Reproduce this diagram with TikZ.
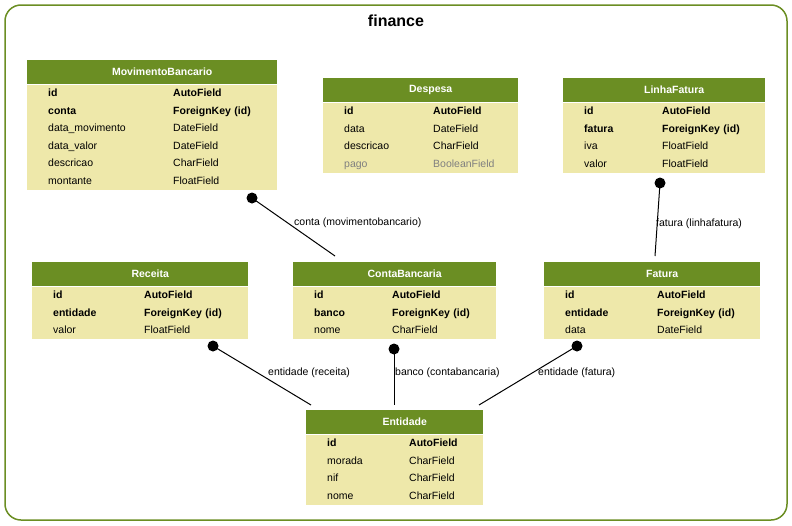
\documentclass[tikz,border=0pt]{standalone}
\usepackage{fontspec}
\setmainfont{Liberation Sans}
\usepackage{xcolor}
\definecolor{erdGreen}{HTML}{6B8E23}
\definecolor{erdBody}{HTML}{EEE8AA}
\definecolor{erdGrey}{HTML}{808080}
\usepackage{tikz}
\usetikzlibrary{positioning}

\begin{document}
\begin{tikzpicture}[
    x=1pt, y=-1pt,
    node distance=0pt,
    erdhead/.style={
        rectangle,
        fill=erdGreen,
        anchor=north west,
        inner sep=0pt,
        minimum height=24pt,
        text=white,
        font=\bfseries\fontsize{10.5}{12}\selectfont,
        execute at begin node=\hspace*{20pt}
    },
    erdbody/.style={
        rectangle,
        fill=erdBody,
        inner sep=0pt,
        align=left,
        font=\fontsize{10.5}{17.5}\selectfont
    },
    fkdot/.style={circle, fill=black, inner sep=0pt, minimum size=11pt},
    fkline/.style={line width=1pt, black},
    fklabel/.style={anchor=west, inner sep=0pt, font=\fontsize{10.5}{12}\selectfont}
]
\useasboundingbox (0,0) rectangle (792,525);

\draw[erdGreen, line width=1.5pt, rounded corners=16pt] (5,5) rectangle (787,520);
\node[font=\bfseries\fontsize{16}{19}\selectfont] (title) at (396,21) {finance};

\node[erdhead, minimum width=250pt] (movHead) at (27,60) {MovimentoBancario};
\node[erdbody, text width=250pt, below=of movHead] (movBody) {%
\begin{tabular}{@{\hspace{21pt}}p{125pt}@{}l@{}}
\textbf{id} & \textbf{AutoField}\\
\textbf{conta} & \textbf{ForeignKey (id)}\\
data\_movimento & DateField\\
data\_valor & DateField\\
descricao & CharField\\
montante & FloatField
\end{tabular}};

\node[erdhead, minimum width=195pt] (despHead) at (323,78) {Despesa};
\node[erdbody, text width=195pt, below=of despHead] (despBody) {%
\begin{tabular}{@{\hspace{21pt}}p{89pt}@{}l@{}}
\textbf{id} & \textbf{AutoField}\\
data & DateField\\
descricao & CharField\\
\textcolor{erdGrey}{pago} & \textcolor{erdGrey}{BooleanField}
\end{tabular}};

\node[erdhead, minimum width=202pt] (linhaHead) at (563,78) {LinhaFatura};
\node[erdbody, text width=202pt, below=of linhaHead] (linhaBody) {%
\begin{tabular}{@{\hspace{21pt}}p{78pt}@{}l@{}}
\textbf{id} & \textbf{AutoField}\\
\textbf{fatura} & \textbf{ForeignKey (id)}\\
iva & FloatField\\
valor & FloatField
\end{tabular}};

\node[erdhead, minimum width=216pt] (recHead) at (32,262) {Receita};
\node[erdbody, text width=216pt, below=of recHead] (recBody) {%
\begin{tabular}{@{\hspace{21pt}}p{91pt}@{}l@{}}
\textbf{id} & \textbf{AutoField}\\
\textbf{entidade} & \textbf{ForeignKey (id)}\\
valor & FloatField
\end{tabular}};

\node[erdhead, minimum width=203pt] (contaHead) at (293,262) {ContaBancaria};
\node[erdbody, text width=203pt, below=of contaHead] (contaBody) {%
\begin{tabular}{@{\hspace{21pt}}p{78pt}@{}l@{}}
\textbf{id} & \textbf{AutoField}\\
\textbf{banco} & \textbf{ForeignKey (id)}\\
nome & CharField
\end{tabular}};

\node[erdhead, minimum width=216pt] (fatHead) at (544,262) {Fatura};
\node[erdbody, text width=216pt, below=of fatHead] (fatBody) {%
\begin{tabular}{@{\hspace{21pt}}p{92pt}@{}l@{}}
\textbf{id} & \textbf{AutoField}\\
\textbf{entidade} & \textbf{ForeignKey (id)}\\
data & DateField
\end{tabular}};

\node[erdhead, minimum width=177pt] (entHead) at (306,410) {Entidade};
\node[erdbody, text width=177pt, below=of entHead] (entBody) {%
\begin{tabular}{@{\hspace{21pt}}p{82pt}@{}l@{}}
\textbf{id} & \textbf{AutoField}\\
morada & CharField\\
nif & CharField\\
nome & CharField
\end{tabular}};

\node[fkdot] (movDot) at (252,198) {};
\node[fkdot] (linhaDot) at (660,183) {};
\node[fkdot] (recDot) at (213,346) {};
\node[fkdot] (contaDot) at (394,349) {};
\node[fkdot] (fatDot) at (577,346) {};

\coordinate (movEnd) at (335,256);
\coordinate (linhaEnd) at (655,256);
\coordinate (recEnd) at (311,405);
\coordinate (contaEnd) at (394,405);
\coordinate (fatEnd) at (479,405);

\draw[fkline] (movDot.center) -- (movEnd);
\draw[fkline] (linhaDot.center) -- (linhaEnd);
\draw[fkline] (recDot.center) -- (recEnd);
\draw[fkline] (contaDot.center) -- (contaEnd);
\draw[fkline] (fatDot.center) -- (fatEnd);

\node[fklabel] (movLabel) at (294,223) {conta (movimentobancario)};
\node[fklabel] (linhaLabel) at (656,224) {fatura (linhafatura)};
\node[fklabel] (recLabel) at (268,373) {entidade (receita)};
\node[fklabel] (contaLabel) at (395,373) {banco (contabancaria)};
\node[fklabel] (fatLabel) at (538,373) {entidade (fatura)};
\end{tikzpicture}
\end{document}
